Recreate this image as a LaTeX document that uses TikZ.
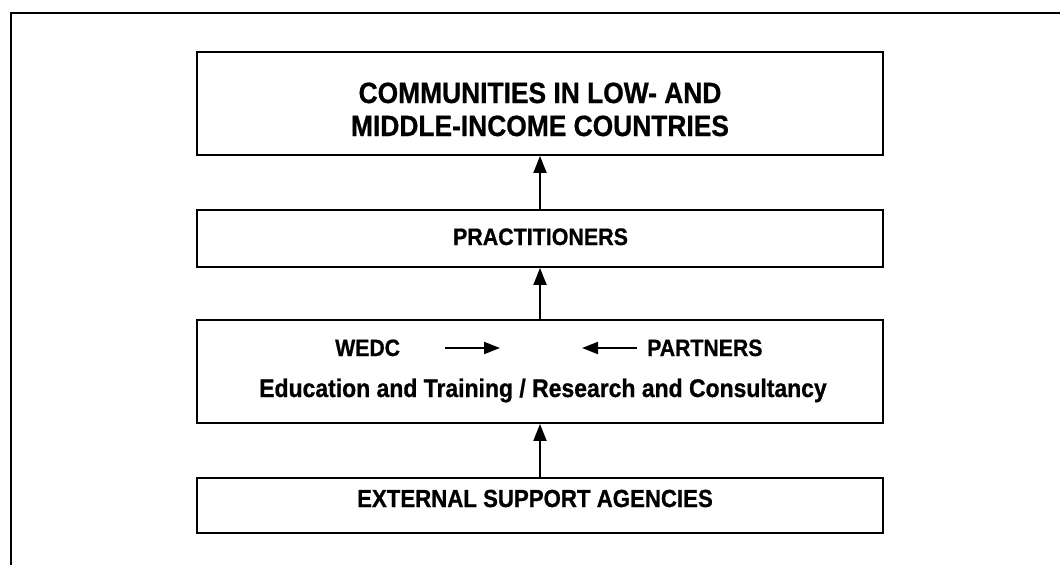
\documentclass[tikz,border=0pt]{standalone}
\usepackage{fontspec}
\usetikzlibrary{arrows.meta}
% condensed, heavy sans for all labels
\newfontfamily\diafont[FakeStretch=0.9,FakeBold=0.8]{Liberation Sans}
\begin{document}
\begin{tikzpicture}[x=1pt,y=-1pt,
  box/.style={draw=black,line width=1.9pt,minimum width=686pt,inner sep=0pt,anchor=center},
  lbl/.style={inner sep=0pt,anchor=base,font=\diafont\bfseries\fontsize{#1}{#1}\selectfont},
  up/.style={line width=2pt,-{Triangle[length=17pt,width=13pt]}},
  side/.style={line width=2pt,-{Triangle[length=16pt,width=12pt]}},
  framelines/.style={line width=1.6pt}]
\useasboundingbox (0,0) rectangle (1060,565);

% outer frame (left and top edges)
\draw[framelines] (11,565) -- (11,13) -- (1060,13);

% boxes
\node[box,minimum height=103pt] (comm) at (540,103.5) {};
\node[box,minimum height=57pt]  (prac) at (540,238.5) {};
\node[box,minimum height=103pt] (mid)  at (540,371.5) {};
\node[box,minimum height=55pt]  (esa)  at (540,505.5) {};

% labels
\node[lbl=29.3] (commA) at (540,103) {COMMUNITIES IN LOW- AND};
\node[lbl=29.3] (commB) at (540,136) {MIDDLE-INCOME COUNTRIES};
\node[lbl=23.8] (pracT) at (540.5,245) {PRACTITIONERS};
\node[lbl=23.6,anchor=base west] (wedc) at (335,356) {WEDC};
\node[lbl=23.6,anchor=base west] (partners) at (647,356) {PARTNERS};
\node[lbl=25.5] (edu) at (543,397) {Education and Training / Research and Consultancy};
\node[lbl=24.7] (esaT) at (535,507) {EXTERNAL SUPPORT AGENCIES};

% arrows between WEDC and partners
\coordinate (wedcA) at (445,348);
\coordinate (wedcB) at (500,348);
\coordinate (partA) at (637,348);
\coordinate (partB) at (582,348);
\draw[side] (wedcA) -- (wedcB);
\draw[side] (partA) -- (partB);

% upward flow
\draw[up] (esa.north) -- (mid.south);
\draw[up] (mid.north) -- (prac.south);
\draw[up] (prac.north) -- (comm.south);
\end{tikzpicture}
\end{document}
